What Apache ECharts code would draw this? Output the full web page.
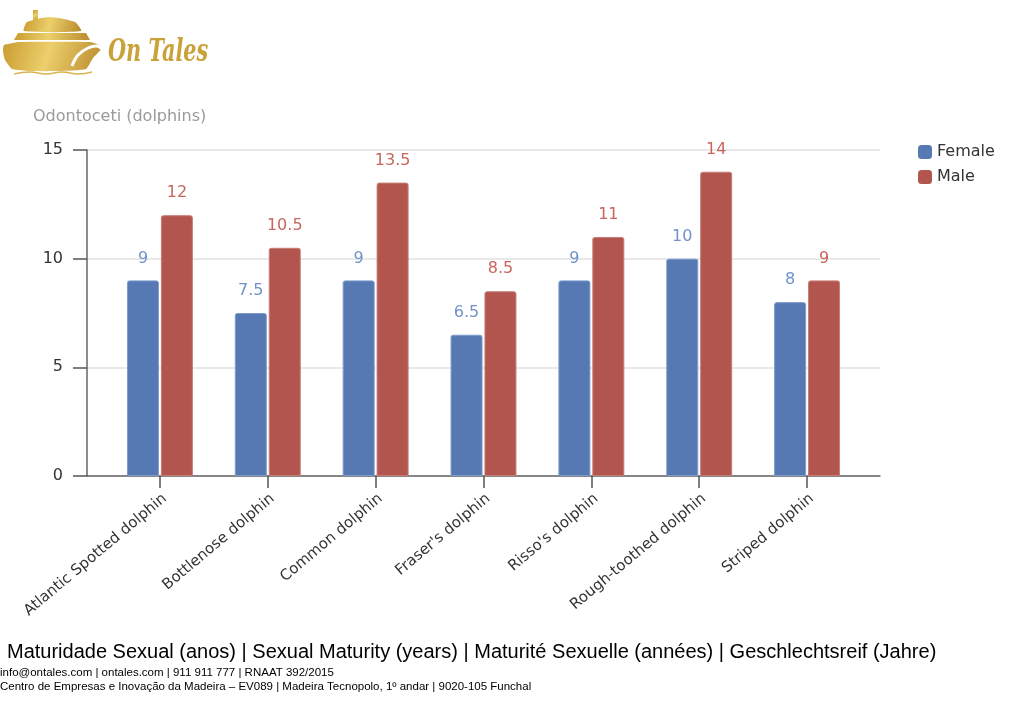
<!DOCTYPE html>
<html style="height: 100%">
<head>
<meta charset="utf-8">
<script src="https://cdn.jsdelivr.net/npm/echarts@6/dist/echarts.min.js"></script>
</head>
<body style="height: 100%; margin: 0">
<div id="container" style="width: 1024px; height: 703px"></div>
<script type="text/javascript">
// dolphins: age at sexual maturity
var species = ['Atlantic Spotted dolphin', 'Bottlenose dolphin', 'Common dolphin',
    "Fraser's dolphin", "Risso's dolphin", 'Rough-toothed dolphin', 'Striped dolphin'];
var femaleData = [9, 7.5, 9, 6.5, 9, 10, 8];
var maleData = [12, 10.5, 13.5, 8.5, 11, 14, 9];
var yTicks = [0, 5, 10, 15];

var blue = '#5679b4', red = '#b1554e';
var font = 'DejaVu Sans';
var gold = new echarts.graphic.LinearGradient(0, 0, 1, 1, [
    {offset: 0, color: '#c99c30'}, {offset: 0.45, color: '#eccf6c'}, {offset: 1, color: '#b98a2b'}
]);

var myChart = echarts.init(document.getElementById('container'));

var option = {
    animation: false,
    textStyle: {fontFamily: font},
    title: {
        text: 'Odontoceti (dolphins)',
        left: 28, top: 104,
        textStyle: {color: '#9a9a9a', fontSize: 16, fontWeight: 'normal', fontFamily: font}
    },
    legend: {
        data: ['Female', 'Male'],
        orient: 'vertical',
        left: 913, top: 139,
        icon: 'roundRect',
        itemWidth: 14, itemHeight: 14, itemGap: 9,
        itemStyle: {borderWidth: 0},
        textStyle: {color: '#333', fontSize: 16, fontFamily: font}
    },
    grid: [
        // frame: axis lines and split lines
        {left: 87, right: 144, top: 150, bottom: 227},
        // bars
        {left: 106, right: 163, top: 150, bottom: 227}
    ],
    xAxis: [
        {
            gridIndex: 0, type: 'value', min: 0, max: 1,
            axisLine: {show: true, lineStyle: {color: '#666', width: 1.5}},
            axisTick: {show: false}, axisLabel: {show: false}, splitLine: {show: false}
        },
        {
            gridIndex: 1, type: 'category', data: species,
            axisLine: {show: false},
            axisTick: {show: true, alignWithLabel: true, length: 12, lineStyle: {color: '#555', width: 1.5}},
            axisLabel: {rotate: 40, fontSize: 15, color: '#333', margin: 15, interval: 0,
                verticalAlign: 'top', fontFamily: font}
        }
    ],
    yAxis: [
        {
            gridIndex: 0, type: 'value', min: 0, max: 15, interval: 5,
            axisLine: {show: true, lineStyle: {color: '#666', width: 1.5}},
            axisTick: {show: true, length: 14, lineStyle: {color: '#555', width: 1.5}},
            axisLabel: {fontSize: 16, color: '#333', margin: 24, fontFamily: font,
                formatter: function (v) { return yTicks.indexOf(v) >= 0 ? String(v) : ''; }},
            splitLine: {lineStyle: {color: '#e2e2e2', width: 1.5}}
        },
        {
            gridIndex: 1, type: 'value', min: 0, max: 15, interval: 5,
            axisLine: {show: false}, axisTick: {show: false},
            axisLabel: {show: false}, splitLine: {show: false}
        }
    ],
    series: [
        {
            name: 'Female', type: 'bar', xAxisIndex: 1, yAxisIndex: 1,
            data: femaleData, barWidth: 32, barGap: '6%',
            itemStyle: {color: blue, borderColor: '#7e9bcb', borderWidth: 1, borderRadius: [2, 2, 0, 0]},
            label: {show: true, position: 'top', distance: 14, fontSize: 16, color: '#7192c9', fontFamily: font}
        },
        {
            name: 'Male', type: 'bar', xAxisIndex: 1, yAxisIndex: 1,
            data: maleData, barWidth: 32,
            itemStyle: {color: red, borderColor: '#c77d77', borderWidth: 1, borderRadius: [2, 2, 0, 0]},
            label: {show: true, position: 'top', distance: 14, fontSize: 16, color: '#c6665f', fontFamily: font}
        }
    ],
    graphic: [
        // logo: ship
        {type: 'rect', shape: {x: 33, y: 10, width: 5, height: 12}, style: {fill: gold}},
        {type: 'polygon', shape: {points: [[24, 31], [27, 22], [50, 17], [75, 22], [81, 31]], smooth: 0.2}, style: {fill: gold}},
        {type: 'polygon', shape: {points: [[14, 40], [18, 33], [86, 33], [90, 40]]}, style: {fill: gold}},
        {type: 'polygon', shape: {points: [[4, 45], [20, 42], [90, 42], [97, 44], [102, 48], [93, 58], [86, 69],
            [60, 71], [30, 71], [12, 69], [5, 60], [3, 51]], smooth: 0.15}, style: {fill: gold}},
        {type: 'polyline', shape: {points: [[72, 66], [78, 55], [88, 48], [97, 46], [103, 50]], smooth: 0.4},
            style: {stroke: '#fff', lineWidth: 3, fill: null}},
        {type: 'polyline', shape: {points: [[14, 74], [30, 72], [46, 74], [62, 72], [78, 74], [92, 72]], smooth: 0.5},
            style: {stroke: '#d8b552', lineWidth: 1.5, fill: null}},
        {type: 'text', x: 108, y: 36, scaleX: 0.8, scaleY: 1.25,
            style: {text: 'On Tales', fill: '#c9a23a', font: 'italic bold 26px "DejaVu Serif"'}},
        // footer
        {type: 'text', left: 7, top: 642,
            style: {text: 'Maturidade Sexual (anos) | Sexual Maturity (years) | Maturité Sexuelle (années) | Geschlechtsreif (Jahre)',
                fill: '#000', font: '20px "Liberation Sans"'}},
        {type: 'text', left: 0, top: 667,
            style: {text: 'info@ontales.com | ontales.com | 911 911 777 | RNAAT 392/2015',
                fill: '#000', font: '11.5px "Liberation Sans"'}},
        {type: 'text', left: 0, top: 681,
            style: {text: 'Centro de Empresas e Inovação da Madeira – EV089 | Madeira Tecnopolo, 1º andar | 9020-105 Funchal',
                fill: '#000', font: '11.5px "Liberation Sans"'}}
    ]
};

myChart.setOption(option);
</script>
</body>
</html>
